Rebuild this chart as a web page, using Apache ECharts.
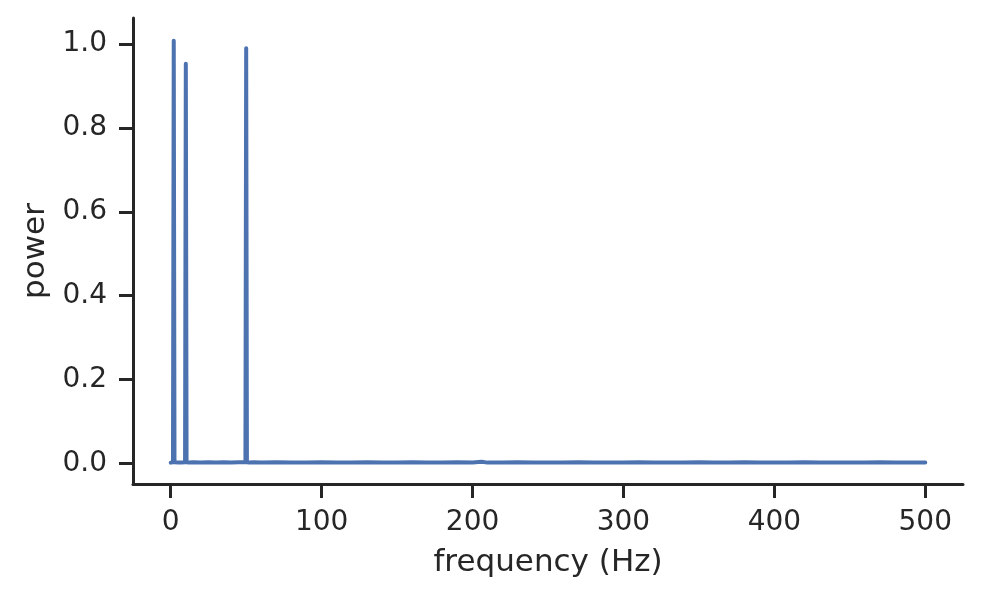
<!DOCTYPE html>
<html>
<head>
<meta charset="utf-8">
<script src="https://cdn.jsdelivr.net/npm/echarts@6/dist/echarts.min.js"></script>
<style>
  html, body { margin: 0; padding: 0; background: #fff; }
  #chart { width: 982px; height: 598px; }
</style>
</head>
<body>
<div id="chart"></div>
<script>
// power spectrum
var freqHz = [0, 1, 1.5, 2, 2.5, 3, 5, 7, 9.5, 10, 10.5, 12, 15, 20, 25, 30, 35, 40, 45, 49.5, 50, 50.5, 52, 55,
  60, 70, 80, 90, 100, 110, 120, 130, 140, 150, 160, 170, 180, 190, 200, 206, 210, 220, 230, 240, 250,
  260, 270, 280, 290, 300, 310, 320, 330, 340, 350, 360, 370, 380, 390, 400, 410, 420, 430, 440, 450,
  460, 470, 480, 490, 500];
var power = [0.002, 0.002, 0.003, 1.008, 0.003, 0.002, 0.002, 0.002, 0.003, 0.953, 0.003, 0.002, 0.003, 0.002, 0.003, 0.002, 0.003, 0.002, 0.003, 0.003, 0.990, 0.003, 0.002, 0.003,
  0.002, 0.003, 0.002, 0.002, 0.003, 0.002, 0.002, 0.003, 0.002, 0.002, 0.003, 0.002, 0.002, 0.003, 0.002, 0.004, 0.002, 0.002, 0.003, 0.002, 0.002,
  0.002, 0.003, 0.002, 0.002, 0.002, 0.003, 0.002, 0.002, 0.002, 0.003, 0.002, 0.002, 0.003, 0.002, 0.002, 0.002, 0.003, 0.002, 0.002, 0.002,
  0.002, 0.003, 0.002, 0.002, 0.002];
var xTicks = [0, 100, 200, 300, 400, 500];
var yTicks = [0, 0.2, 0.4, 0.6, 0.8, 1.0];

var mychart = echarts.init(document.getElementById('chart'));
var ink = '#262626';
var font = 'DejaVu Sans';

var option = {
    animation: false,
    grid: { left: 133, right: 19, top: 18, bottom: 114 },
    xAxis: {
        type: 'value',
        min: -25,
        max: 525,
        name: 'frequency (Hz)',
        nameLocation: 'middle',
        nameGap: 63,
        nameTextStyle: { fontSize: 31, color: ink, fontFamily: font },
        axisLine: { onZero: false, lineStyle: { color: ink, width: 3 } },
        axisTick: { length: 14, lineStyle: { color: ink, width: 3 }, customValues: xTicks },
        axisLabel: { fontSize: 28, color: ink, fontFamily: font, margin: 25, customValues: xTicks },
        splitLine: { show: false }
    },
    yAxis: {
        type: 'value',
        min: -0.049,
        max: 1.062,
        name: 'power',
        nameLocation: 'middle',
        nameGap: 80,
        nameTextStyle: { fontSize: 31, color: ink, fontFamily: font },
        axisLine: { show: true, onZero: false, lineStyle: { color: ink, width: 3 } },
        axisTick: { show: true, length: 14, lineStyle: { color: ink, width: 3 }, customValues: yTicks },
        axisLabel: {
            fontSize: 28, color: ink, fontFamily: font, margin: 26, customValues: yTicks,
            formatter: function (v) { return v.toFixed(1); }
        },
        splitLine: { show: false }
    },
    series: [{
        type: 'line',
        data: freqHz.map(function (f, i) { return [f, power[i]]; }),
        showSymbol: false,
        lineStyle: { color: '#4c72b0', width: 4, cap: 'round', join: 'round' }
    }]
};
mychart.setOption(option);
</script>
</body>
</html>
